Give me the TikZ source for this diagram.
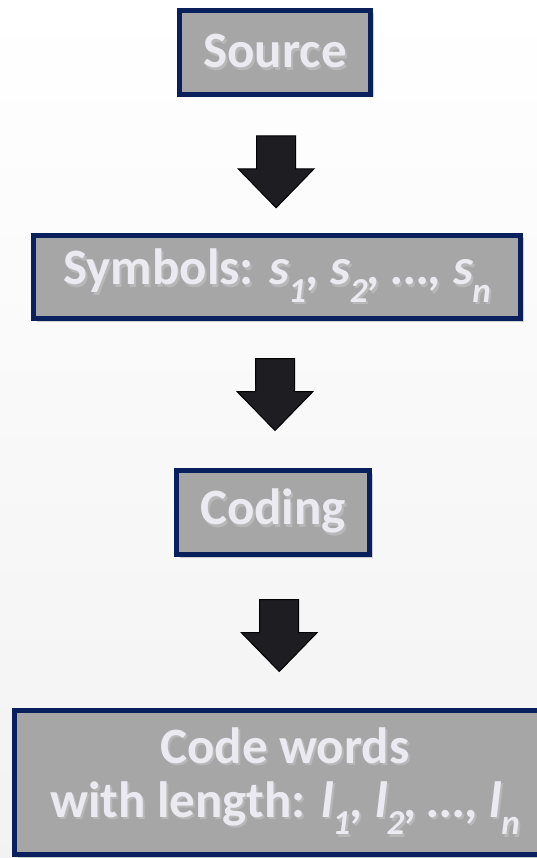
\documentclass[tikz,border=0pt]{standalone}
\usepackage{fontspec}
\setmainfont{Carlito}
\usetikzlibrary{calc}
\usetikzlibrary{shadows}
\definecolor{boxnavy}{RGB}{10,32,92}
\definecolor{boxgray}{RGB}{166,166,166}
\definecolor{txtgray}{RGB}{234,234,240}
\definecolor{arrowblk}{RGB}{30,30,34}
\newcommand\idx[1]{\kern-1pt\raisebox{-.34em}{\fontsize{35}{35}\selectfont #1}}
% light text with a dark copy just behind it
\newcommand\shd[1]{\leavevmode\rlap{\raisebox{-2.5pt}{\hspace{2pt}\color{black!28}#1}}#1}
\tikzset{
  stage/.style={
      draw=boxnavy, line width=5.5pt, fill=boxgray, text=txtgray,
      font=\fontsize{51}{54}\selectfont\bfseries, inner sep=0pt, align=center,
      drop shadow={shadow xshift=3pt, shadow yshift=-3pt, opacity=.35}
    },
  downarrow/.pic={
      \filldraw[fill=arrowblk, draw=black, line width=1pt]
      (-19.5,36) -- (19.5,36) -- (19.5,3) -- (38,3) -- (0,-36)
      -- (-38,3) -- (-19.5,3) -- cycle;
    },
}

\begin{document}
\begin{tikzpicture}[x=1pt,y=1pt]
      \useasboundingbox (0,0) rectangle (537,-858);
      \fill [top color=white, bottom color=gray!10] (0,0) rectangle (537,-858);

      \node [stage, minimum width=191, minimum height=84] (src) at (275,-52.5) {\shd{Source}};
      \node [stage, minimum width=487, minimum height=83] (sym) at (277,-277)
      {\shd{Symbols: {\itshape s\idx{1}, s\idx{2}, …, s\idx{n}}}};
      \node [stage, minimum width=193, minimum height=84] (cod) at (273,-512.5) {\shd{Coding}};
      \node [stage, minimum width=541, minimum height=144] (words) at (285,-782.5)
      {\shd{Code words}\\\shd{with length: {\itshape l\idx{1}, l\idx{2}, …, l\idx{n}}}};

      \pic at ($(src.south)!.55!(sym.north)$) {downarrow};
      \pic at ($(sym.south)!.5!(cod.north)$) {downarrow};
      \pic at ($(cod.south)!.52!(words.north)$) {downarrow};
    \end{tikzpicture}
\end{document}
